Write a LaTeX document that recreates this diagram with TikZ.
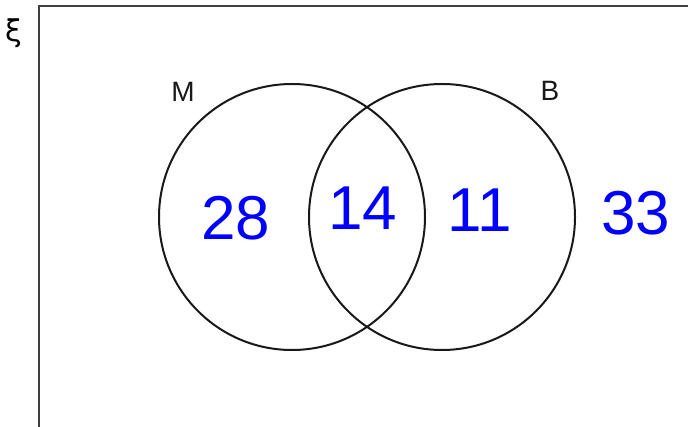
\documentclass[tikz,border=0pt]{standalone}
\usepackage{fontspec}
\setmainfont{Liberation Sans}
\newfontfamily\greekfont{DejaVu Sans}
\usepackage{tikz}
\usetikzlibrary{positioning}

\begin{document}
\begin{tikzpicture}[
    x=1pt, y=1pt,
    universe/.style={draw=black!75, line width=2.4pt},
    setcircle/.style={circle, draw=black!90, line width=2pt, minimum size=266pt, inner sep=0pt},
    setlabel/.style={font=\fontsize{28}{28}\selectfont, text=black!90},
    count/.style={font=\fontsize{62}{62}\selectfont, text=blue}
]
\clip (0,0) rectangle (688,-427);

% universal set
\draw [universe] (39,-6) rectangle (720,-460);
\node (xi) at (14,-33) {\greekfont\fontsize{30}{30}\selectfont ξ};

% the two sets
\node (setm) [setcircle] at (292,-217) {};
\node (setb) [setcircle] at (442,-217) {};
\node (labm) [setlabel] at (183,-92) {M};
\node (labb) [setlabel] at (550,-91) {B};

% counts
\node (onlym) [count] at (236,-218) {28};
\node (both) [count] at (363,-208) {14};
\node (onlyb) [count] at (480,-210) {11};
\node (none) [count] at (636,-213) {33};

\end{tikzpicture}
\end{document}
